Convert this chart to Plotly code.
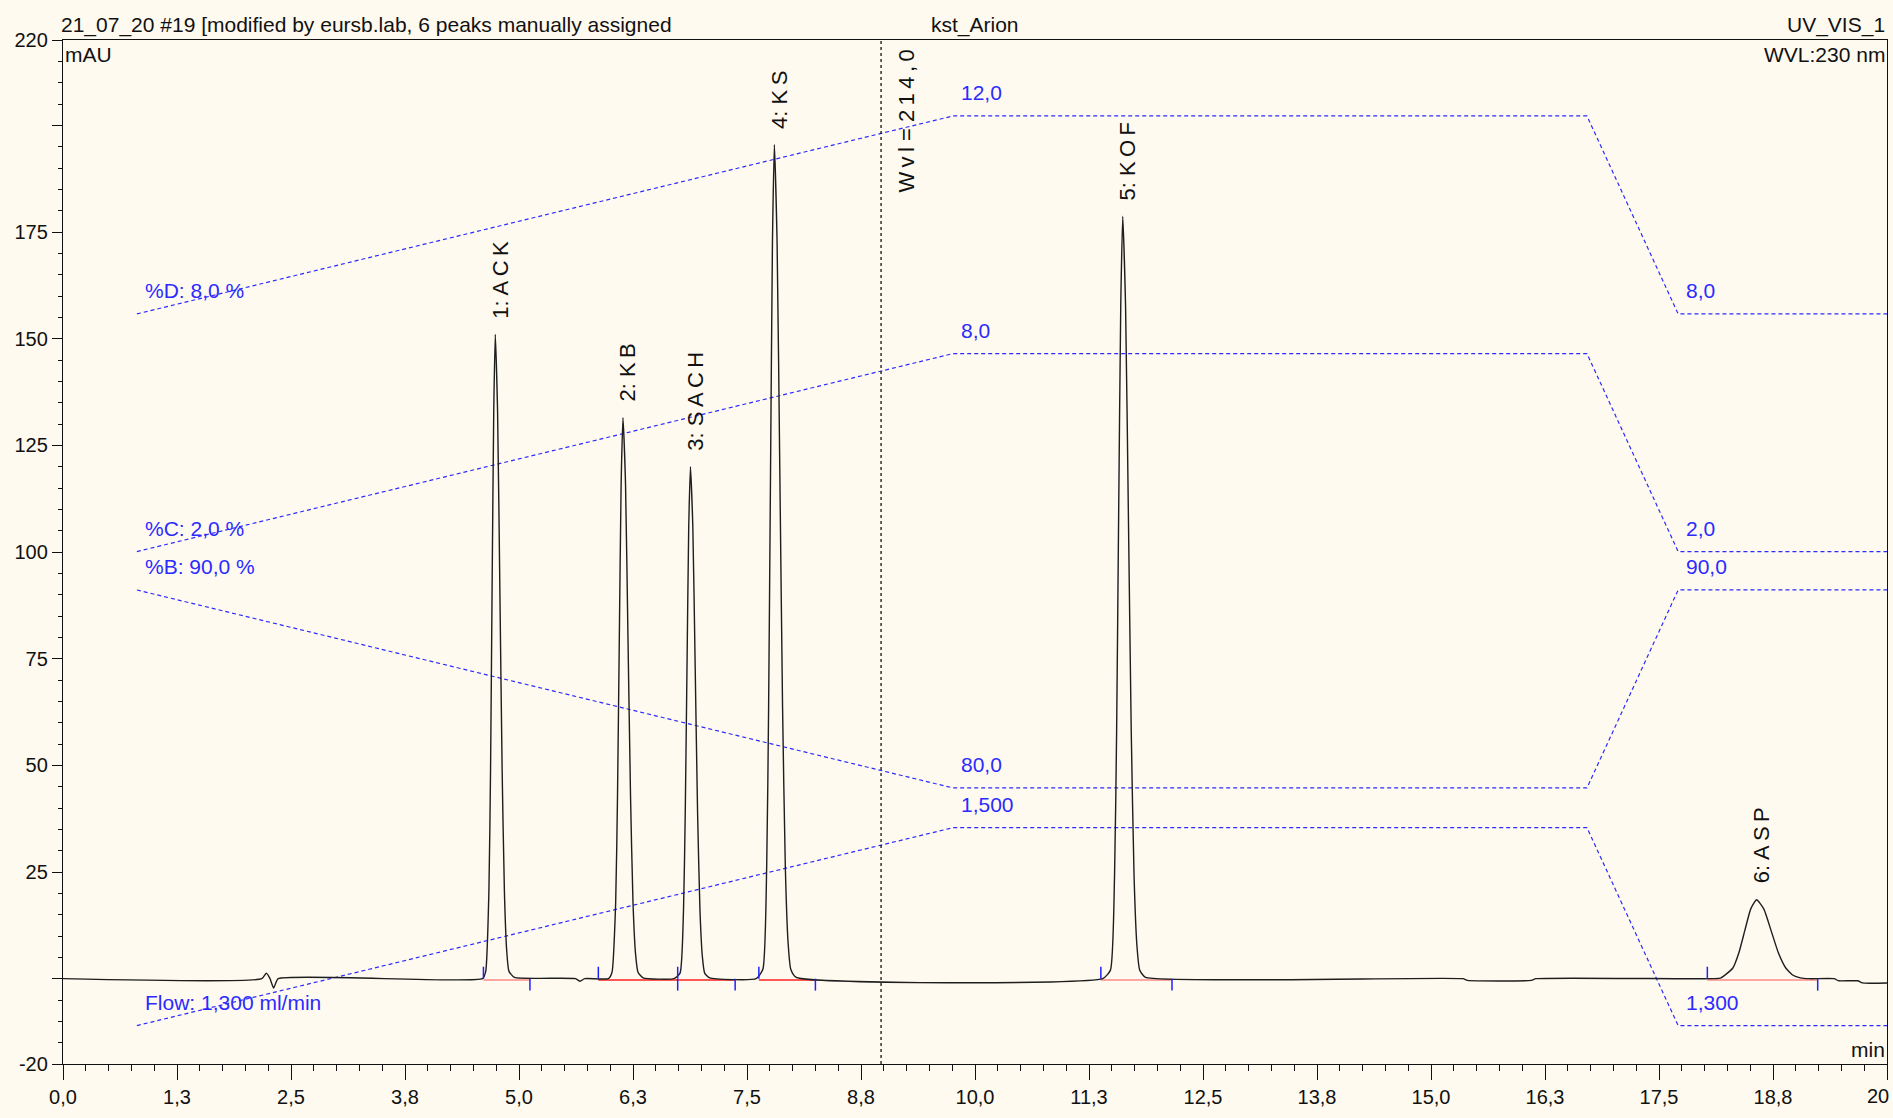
import plotly.graph_objects as go
from decimal import Decimal, ROUND_HALF_UP

# ---- UV_VIS_1 detector trace: retention time (min) and absorbance (mAU) ----
signal_time = [
    0.00, 2.18, 2.23, 2.27, 2.31, 2.36, 4.60,
    4.635, 4.670, 4.688, 4.705, 4.723, 4.740, 4.765, 4.790, 4.815, 4.840, 4.865, 4.890, 4.950,
    5.62, 5.67, 5.72, 5.98,
    6.020, 6.060, 6.080, 6.100, 6.120, 6.140, 6.168, 6.195, 6.223, 6.250, 6.278, 6.305, 6.360,
    6.70,
    6.766, 6.804, 6.823, 6.842, 6.861, 6.880, 6.906, 6.932, 6.958, 6.984, 7.010, 7.036, 7.090,
    7.60,
    7.674, 7.716, 7.737, 7.758, 7.779, 7.800, 7.830, 7.860, 7.890, 7.920, 7.950, 7.980, 8.040,
    11.40,
    11.485, 11.530, 11.553, 11.575, 11.598, 11.620, 11.651, 11.682, 11.713, 11.744, 11.775, 11.806, 11.870,
    15.35, 15.40, 16.10, 16.15, 18.10,
    18.180, 18.310, 18.375, 18.440, 18.505, 18.570, 18.650, 18.730, 18.810, 18.890, 18.970, 19.050, 19.150,
    19.42, 19.47, 19.68, 19.73, 20.00,
]
signal_mau = [
    0.0, 0.0, 1.3, 0.0, -2.2, 0.0, 0.0,
    1.7, 20.4, 49.0, 91.6, 133.0, 151.0, 133.0, 91.6, 49.0, 20.4, 6.6, 1.7, 0.3,
    0.0, -0.6, 0.0, 0.0,
    1.5, 17.8, 42.7, 79.8, 116.0, 131.5, 116.0, 79.8, 42.7, 17.8, 5.8, 1.5, 0.2,
    0.0,
    1.3, 16.2, 39.0, 72.8, 105.8, 120.0, 105.8, 72.8, 39.0, 16.2, 5.3, 1.3, 0.2,
    0.0,
    2.2, 26.4, 63.5, 118.7, 172.4, 195.5, 172.4, 118.7, 63.5, 26.4, 8.6, 2.2, 0.3,
    0.0,
    2.0, 24.1, 58.1, 108.5, 157.6, 178.7, 157.6, 108.5, 58.1, 24.1, 7.9, 2.0, 0.3,
    0.0, -0.4, -0.4, 0.0, 0.0,
    0.2, 2.5, 6.0, 11.2, 16.3, 18.5, 16.3, 11.2, 6.0, 2.5, 0.8, 0.2, 0.0,
    0.0, -0.5, -0.5, -1.0, -1.0,
]

# ---- integrated peaks ----
peak_number = [1, 2, 3, 4, 5, 6]
peak_name = ["ACK", "KB", "SACH", "KS", "KOF", "ASP"]
peak_rt = [4.74, 6.14, 6.88, 7.80, 11.62, 18.57]
peak_height = [151.0, 131.5, 120.0, 195.5, 178.7, 18.5]
peak_start = [4.61, 5.87, 6.74, 7.63, 11.38, 18.03]
peak_end = [5.12, 6.74, 7.37, 8.25, 12.16, 19.24]

# ---- pump gradient program ----
grad_time = [0.81, 9.76, 16.71, 17.71, 20.00]
pct_D = [8.0, 12.0, 12.0, 8.0, 8.0]
pct_C = [2.0, 8.0, 8.0, 2.0, 2.0]
pct_B = [90.0, 80.0, 80.0, 90.0, 90.0]
flow_ml_min = [1.300, 1.500, 1.500, 1.300, 1.300]

# wavelength switch event
wvl_switch_time = 8.97
wvl_switch_nm = 214.0

# ---- axis ticks ----
x_tick_vals = [i * 1.25 for i in range(17)]
y_tick_vals = [-20, 0, 25, 50, 75, 100, 125, 150, 175, 200, 220]
y_unlabelled = [0, 200]

BG = "#FFFAEF"
BLUE = "#2B2BFF"
INK = "#111111"
SANS = "Liberation Sans, Arial, sans-serif"
THIN = "\u2009"


def comma(v, places):
    q = Decimal(1).scaleb(-places)
    return str(Decimal(str(v)).quantize(q, rounding=ROUND_HALF_UP)).replace(".", ",")


def spaced(s):
    # letter-spaced rendering used for the vertical labels
    out = ""
    for i, ch in enumerate(s):
        out += ch
        if i + 1 < len(s):
            nxt = s[i + 1]
            if ch != " " and nxt != " " and ch != ":" and nxt != ":":
                out += THIN
    return out


fig = go.Figure()

# gradient curves, each stacked in its own band of the mAU scale
channels = [
    # name, values, decimals, unit, y of minimum, band height
    ("%D", pct_D, 1, " %", 155.8, 46.4),
    ("%C", pct_C, 1, " %", 100.1, 46.4),
    ("%B", pct_B, 1, " %", 44.7, 46.4),
    ("Flow", flow_ml_min, 3, " ml/min", -11.0, 46.4),
]
annotations = []
for name, vals, dec, unit, base, band in channels:
    lo, hi = min(vals), max(vals)
    ys = [base + (v - lo) / (hi - lo) * band for v in vals]
    fig.add_trace(go.Scatter(
        x=grad_time, y=ys, mode="lines",
        line=dict(color=BLUE, width=1.2, dash="4px,3px"),
        hoverinfo="skip",
    ))
    for idx in (0, 1, 3):
        txt = comma(vals[idx], dec)
        if idx == 0:
            txt = f"{name}: {txt}{unit}"
        annotations.append(dict(
            x=grad_time[idx], y=ys[idx], xref="x", yref="y",
            text=txt, showarrow=False, xanchor="left", yanchor="middle",
            xshift=6, yshift=23, font=dict(family=SANS, size=21, color=BLUE),
        ))

# integration baselines
for i in range(len(peak_start)):
    col = "#FF2020" if 1 <= i <= 3 else "#FF8A8A"
    fig.add_trace(go.Scatter(
        x=[peak_start[i], peak_end[i]], y=[-0.3, -0.3], mode="lines",
        line=dict(color=col, width=1.6), hoverinfo="skip",
    ))

# chromatogram
fig.add_trace(go.Scatter(
    x=signal_time, y=signal_mau, mode="lines",
    line=dict(color="#1E1E1E", width=1.4, shape="spline", smoothing=0.5),
    hoverinfo="skip",
))

# peak delimiters: start marks above the baseline, end marks below
dx, dy = [], []
for t in peak_start:
    dx += [t, t, None]
    dy += [0, 2.8, None]
for t in peak_end:
    dx += [t, t, None]
    dy += [0, -2.8, None]
fig.add_trace(go.Scatter(
    x=dx, y=dy, mode="lines", line=dict(color="#2020FF", width=1.5),
    hoverinfo="skip",
))

# peak labels
for n, name, rt, h in zip(peak_number, peak_name, peak_rt, peak_height):
    annotations.append(dict(
        x=rt, y=h, xref="x", yref="y", text=spaced(f"{n}: {name}"),
        showarrow=False, textangle=-90, xanchor="center", yanchor="bottom",
        xshift=5, yshift=14, font=dict(family=SANS, size=22, color=INK),
    ))

# wavelength switch marker
fig.add_shape(type="line", xref="x", yref="paper",
              x0=wvl_switch_time, x1=wvl_switch_time, y0=0, y1=1,
              line=dict(color=INK, width=1.3, dash="3px,3px"))
annotations.append(dict(
    x=wvl_switch_time, y=1, xref="x", yref="paper",
    text=spaced(f"Wvl = {comma(wvl_switch_nm, 1)}"), showarrow=False,
    textangle=-90, xanchor="center", yanchor="top", xshift=25, yshift=-8,
    font=dict(family=SANS, size=22, color=INK),
))

# header and corner captions
hdr = dict(family=SANS, size=21, color=INK)
annotations += [
    dict(x=0, y=1, xref="paper", yref="paper", xanchor="left", yanchor="bottom",
         xshift=-4, yshift=1, showarrow=False, font=hdr,
         text="21_07_20 #19 [modified by eursb.lab, 6 peaks manually assigned"),
    dict(x=0.5, y=1, xref="paper", yref="paper", xanchor="center", yanchor="bottom",
         yshift=1, showarrow=False, font=hdr, text="kst_Arion"),
    dict(x=1, y=1, xref="paper", yref="paper", xanchor="right", yanchor="bottom",
         yshift=1, showarrow=False, font=hdr, text="UV_VIS_1"),
    dict(x=0, y=1, xref="paper", yref="paper", xanchor="left", yanchor="top",
         xshift=0, yshift=-1, showarrow=False, font=hdr, text="mAU"),
    dict(x=1, y=1, xref="paper", yref="paper", xanchor="right", yanchor="top",
         yshift=-1, showarrow=False, font=hdr, text="WVL:230 nm"),
    dict(x=1, y=0, xref="paper", yref="paper", xanchor="right", yanchor="bottom",
         yshift=1, showarrow=False, font=hdr, text="min"),
]

# the last time label sits against the right page edge
x_tick_text = [comma(v, 1) for v in x_tick_vals]
last_label = f"{x_tick_vals[-1]:g}"
x_tick_text[-1] = ""
annotations.append(dict(
    x=x_tick_vals[-1], y=0, xref="x", yref="paper", text=last_label,
    showarrow=False, xanchor="right", yanchor="middle", xshift=4, yshift=-32,
    font=dict(family=SANS, size=20, color=INK),
))

fig.update_layout(
    width=1893, height=1118,
    margin=dict(l=63, r=6, t=40, b=54),
    paper_bgcolor=BG, plot_bgcolor=BG,
    showlegend=False,
    annotations=annotations,
)
fig.update_xaxes(
    range=[0, 20], tickmode="array", tickvals=x_tick_vals,
    ticktext=x_tick_text,
    ticks="outside", ticklen=15, tickwidth=1.3, tickcolor=INK,
    minor=dict(dtick=0.25, tick0=0, ticks="outside", ticklen=6, tickcolor=INK, tickwidth=1.2),
    showline=True, linecolor=INK, linewidth=1.4, mirror=True,
    showgrid=False, zeroline=False, ticklabeloverflow="allow", automargin=False,
    tickfont=dict(family=SANS, size=20, color=INK),
)
fig.update_yaxes(
    range=[-20, 220], tickmode="array", tickvals=y_tick_vals,
    ticktext=["" if v in y_unlabelled else str(v) for v in y_tick_vals],
    ticks="outside", ticklen=10, tickwidth=1.3, tickcolor=INK,
    minor=dict(dtick=5, tick0=0, ticks="outside", ticklen=4, tickcolor=INK, tickwidth=1.2),
    showline=True, linecolor=INK, linewidth=1.4, mirror=True,
    showgrid=False, zeroline=False, ticklabeloverflow="allow", automargin=False,
    tickfont=dict(family=SANS, size=20, color=INK),
)

fig.write_html("out.html")
